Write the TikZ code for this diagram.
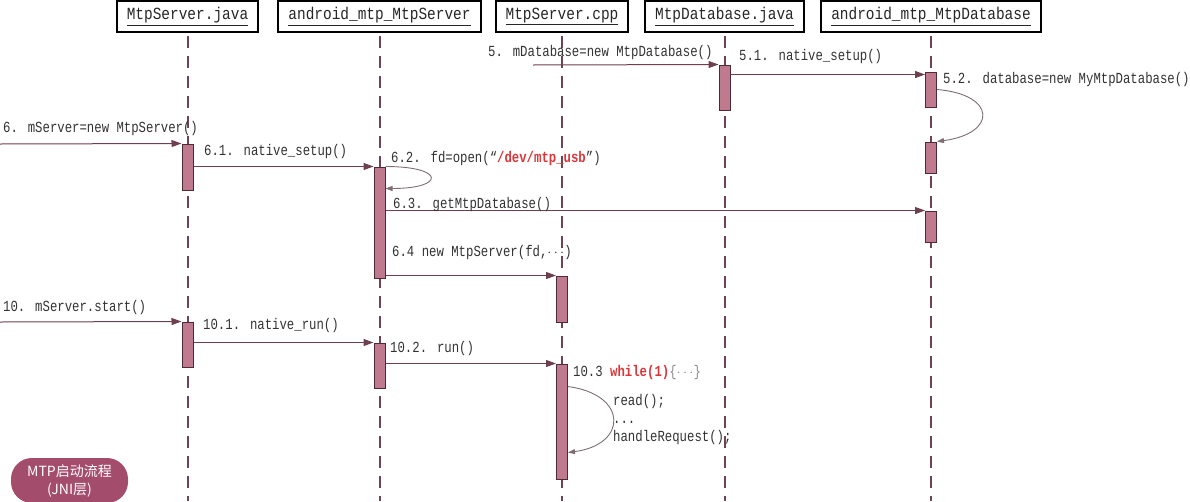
\documentclass[tikz,border=0pt]{standalone}
\usepackage{fontspec}
\setmonofont{Liberation Mono}
\newfontfamily\lblfont{Liberation Mono}[FakeStretch=0.8]
\newfontfamily\hdrfont{Liberation Mono}[FakeStretch=0.85]
\newfontfamily\cjk{Noto Sans CJK SC}
\usetikzlibrary{arrows.meta,calc}
\definecolor{lifec}{HTML}{6E4450}
\definecolor{actfill}{HTML}{C07A90}
\definecolor{actborder}{HTML}{4E2A36}
\definecolor{msgc}{HTML}{6E3F4E}
\definecolor{loopc}{HTML}{7D6E74}
\definecolor{txtc}{HTML}{333333}
\definecolor{redc}{HTML}{D9373A}
\definecolor{badgec}{HTML}{A44C6B}
\definecolor{greyc}{HTML}{8A8A8A}
\begin{document}
\begin{tikzpicture}[x=1pt,y=-1pt,
  hdr/.style={draw=black,line width=1.3pt,minimum height=31pt,inner sep=0pt,font=\hdrfont\fontsize{17}{18}\selectfont,text=black!85},
  life/.style={draw=lifec,line width=2pt,dash pattern=on 12pt off 8pt},
  act/.style={draw=actborder,fill=actfill,line width=1pt,minimum width=11pt,inner sep=0pt},
  msg/.style={draw=msgc,line width=1pt,-{Triangle[length=10pt,width=7pt]}},
  selfmsg/.style={draw=loopc,line width=0.9pt,-{Triangle[length=7pt,width=5pt]}},
  lbl/.style={anchor=west,inner sep=0pt,text=txtc,font=\lblfont\fontsize{15.4}{18}\selectfont,align=left},
  badge/.style={fill=badgec,rounded corners=21pt,minimum width=117pt,minimum height=45pt,inner sep=0pt,text=white,align=center,font=\cjk\fontsize{14}{18}\selectfont},
]
\useasboundingbox (0,0) rectangle (1190,501);
\coordinate (bot) at (0,501);

% headers
\node[hdr,minimum width=141pt] (h1) at (187.5,16.5) {\underline{MtpServer.java}};
\node[hdr,minimum width=203pt] (h2) at (379.5,16.5) {\underline{android\_mtp\_MtpServer}};
\node[hdr,minimum width=132pt] (h3) at (562,16.5) {\underline{MtpServer.cpp}};
\node[hdr,minimum width=159pt] (h4) at (724.5,16.5) {\underline{MtpDatabase.java}};
\node[hdr,minimum width=220pt] (h5) at (931,16.5) {\underline{android\_mtp\_MtpDatabase}};

% lifelines
\foreach \h in {h1,h2,h3,h4,h5}{
  \draw[life] (\h.south) ++(0,3) -- (\h.south |- bot);
}

% activations
\node[act,minimum height=45pt] (dbj1) at (724.5,87.5) {};
\node[act,minimum height=35pt] (dbn1) at (931,89.5) {};
\node[act,minimum height=31pt] (dbn2) at (931,157.5) {};
\node[act,minimum height=31pt] (dbn3) at (931,226.5) {};
\node[act,minimum height=46pt] (sj1) at (187.5,167) {};
\node[act,minimum height=45pt] (sj2) at (187.5,344.5) {};
\node[act,minimum height=111pt] (sn1) at (379.5,222.5) {};
\node[act,minimum height=45pt] (sn2) at (379.5,365.5) {};
\node[act,minimum height=46pt] (sc1) at (562,299) {};
\node[act,minimum height=115pt] (sc2) at (562,421.5) {};

% messages
\coordinate (s5) at (533,65);
\draw[msg] (s5) -- (dbj1.north west);
\draw[msg] (dbj1.north east) ++(0,10) coordinate (p51) -- (p51 -| dbn1.west);
\draw[selfmsg] (dbn1.east) .. controls +(60,5) and +(60,-8) .. (dbn2.north east);

\coordinate (s6) at (0,144);
\draw[msg] (s6) -- (sj1.north west);
\draw[msg] (sj1.east |- sn1.north) -- (sn1.north west);
\draw[selfmsg] (sn1.north east) .. controls +(60,0) and +(60,0) .. ($(sn1.north east)+(0,22)$);
\draw[msg] (sn1.east |- dbn3.north) -- (dbn3.north west);
\draw[msg] (sn1.east |- sc1.north) -- (sc1.north west);

\coordinate (s10) at (0,322);
\draw[msg] (s10) -- (sj2.north west);
\draw[msg] (sj2.east |- sn2.north) -- (sn2.north west);
\draw[msg] (sn2.east |- sc2.north) -- (sc2.north west);
\draw[selfmsg] (sc2.north east) ++(0,23) coordinate (l1) .. controls +(60,8) and +(60,-8) .. ($(sc2.north east)+(0,89)$);

% labels
\node[lbl] (t5) at (488,53) {5. mDatabase=new MtpDatabase()};
\node[lbl] (t51) at (739,57) {5.1. native\_setup()};
\node[lbl] (t52) at (943,80) {5.2. database=new MyMtpDatabase()};
\node[lbl] (t6) at (3,129) {6. mServer=new MtpServer()};
\node[lbl] (t61) at (204,152) {6.1. native\_setup()};
\node[lbl] (t62) at (391,159) {6.2. fd=open(“{\color{redc}\bfseries/dev/mtp\_usb}”)};
\node[lbl] (t63) at (393,205) {6.3. getMtpDatabase()};
\node[lbl] (t64) at (392,253) {6.4 new MtpServer(fd,$\cdots$)};
\node[lbl] (t10) at (3,308) {10. mServer.start()};
\node[lbl] (t101) at (203,326) {10.1. native\_run()};
\node[lbl] (t102) at (390,349) {10.2. run()};
\node[lbl] (t103) at (573,373) {10.3 {\color{redc}\bfseries while(1)}{\color{greyc}\{$\cdots$\}}};
\node[lbl] (tloop) at (613,420) {read();\\...\\handleRequest();};

% badge
\node[badge] (badge) at (69.5,480.5) {MTP启动流程\\(JNI层)};
\end{tikzpicture}
\end{document}
